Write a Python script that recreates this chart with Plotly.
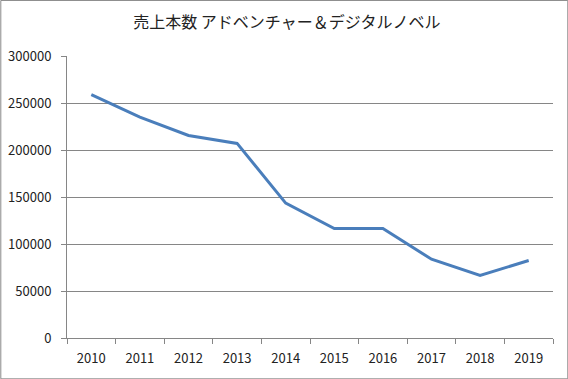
import plotly.graph_objects as go

years = ["2010", "2011", "2012", "2013", "2014", "2015", "2016", "2017", "2018", "2019"]
sales = [259000, 235000, 215500, 207000, 143500, 116500, 116500, 83800, 66500, 82500]
y_ticks = [0, 50000, 100000, 150000, 200000, 250000, 300000]
title_text = "売上本数 アドベンチャー＆デジタルノベル"

W, H = 568, 379
L, R, T, B = 66.7, 15.3, 56, 41.3
pw, ph = W - L - R, H - T - B

fig = go.Figure()
fig.add_trace(go.Scatter(
    x=years, y=sales, mode="lines",
    line=dict(color="#4A7EBB", width=3),
    hoverinfo="skip", showlegend=False,
))

fig.update_layout(
    template="none",
    width=W, height=H,
    margin=dict(l=L, r=R, t=T, b=B, pad=0, autoexpand=False),
    paper_bgcolor="white", plot_bgcolor="white",
    font=dict(family="Noto Sans CJK JP, sans-serif", size=13, color="#222222"),
    title=dict(text=title_text, x=0.505, xanchor="center", xref="container",
               y=1 - 22 / H, yanchor="middle", yref="container", automargin=False,
               font=dict(size=16, color="#222222")),
    xaxis=dict(
        type="category", range=[-0.5, len(years) - 0.5], automargin=False,
        showgrid=False, showline=True, linecolor="#868686", linewidth=1,
        ticks="outside", tickson="boundaries", ticklen=5, tickcolor="#868686",
        ticklabelstandoff=8,
        zeroline=False, fixedrange=True, tickfont=dict(size=13),
    ),
    yaxis=dict(
        range=[0, 300000], tickvals=y_ticks, ticktext=[str(v) for v in y_ticks],
        automargin=False,
        showgrid=True, gridcolor="#868686", gridwidth=1,
        showline=True, linecolor="#868686", linewidth=1,
        ticks="outside", ticklen=5, tickcolor="#868686",
        ticklabelstandoff=7,
        zeroline=False, fixedrange=True, tickfont=dict(size=13),
    ),
    shapes=[dict(
        type="rect", xref="paper", yref="paper",
        x0=-(L - 0.5) / pw, x1=1 + (R - 0.5) / pw,
        y0=-(B - 0.5) / ph, y1=1 + (T - 0.5) / ph,
        line=dict(color="#888888", width=1), fillcolor="rgba(0,0,0,0)", layer="above",
    )],
)

fig.write_html("out.html", config={"displayModeBar": False},
               post_script="document.body.style.margin='0';")
